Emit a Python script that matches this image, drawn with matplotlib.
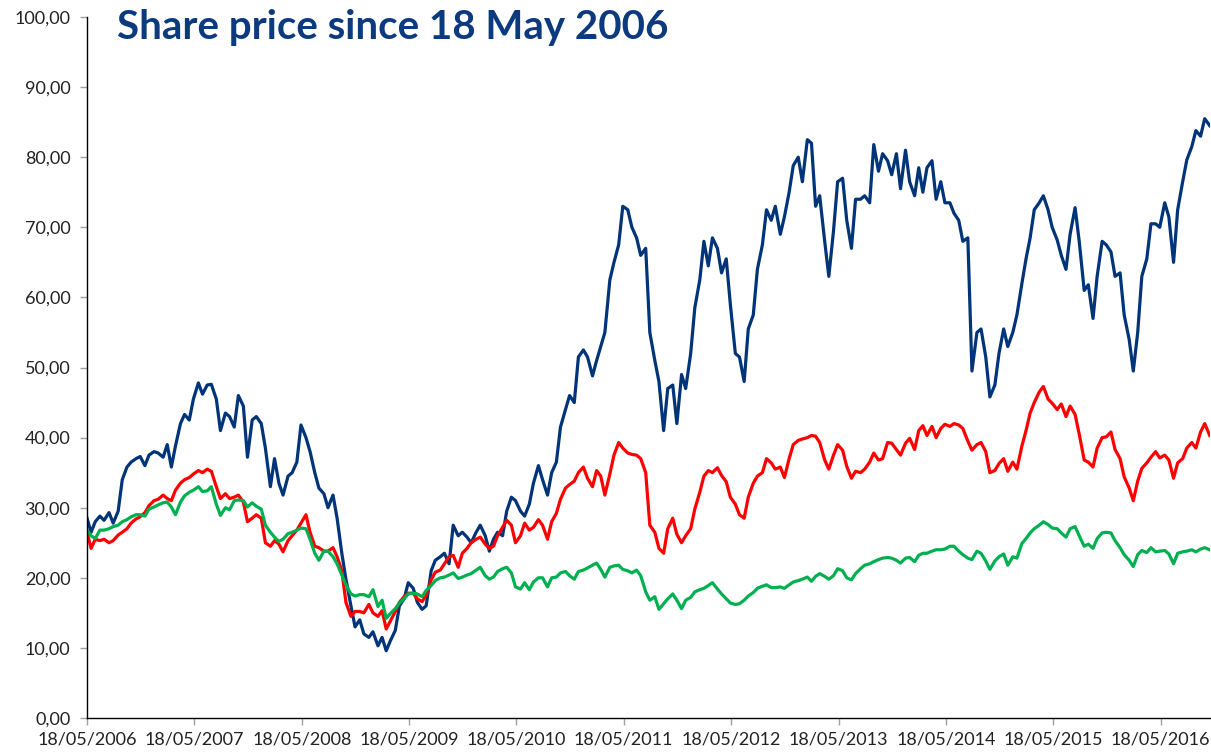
import pandas as pd
import matplotlib
matplotlib.use('Agg')
import matplotlib.pyplot as plt
import matplotlib.dates as mdates
from matplotlib.ticker import FuncFormatter

# semi-monthly observations, 18 May 2006 -> 1 Nov 2016
dates = [pd.Timestamp('2006-05-18')] + list(pd.date_range('2006-06-01', '2016-11-01', freq='SMS'))

blue = [
    28.5, 26.5, 28.0, 28.8, 28.2, 29.3, 27.8, 29.5, 34.0, 35.8, 36.5, 37.0,
    37.3, 36.0, 37.5, 38.0, 37.8, 37.2, 39.0, 35.8, 38.8, 42.0, 43.3, 42.5,
    45.5, 47.8, 46.2, 47.5, 47.6, 45.5, 41.0, 43.5, 43.0, 41.5, 46.0, 44.5,
    37.2, 42.5, 43.0, 42.0, 38.5, 33.0, 37.0, 33.5, 31.8, 34.5, 35.0, 36.5,
    41.8, 40.0, 38.0, 35.0, 32.8, 32.0, 30.0, 31.8, 28.5, 23.5, 19.8, 16.0,
    13.0, 14.0, 12.0, 11.5, 12.3, 10.3, 11.5, 9.6, 11.0, 12.5, 16.0, 17.0,
    19.3, 18.5, 16.5, 15.5, 16.0, 21.0, 22.5, 23.0, 23.5, 22.0, 27.5, 26.0,
    26.5, 25.8, 25.0, 26.5, 27.5, 26.0, 23.8, 25.5, 26.5, 26.0, 29.5, 31.5,
    31.0, 29.5, 28.8, 30.5, 33.5, 36.0, 34.0, 31.8, 35.0, 36.5, 41.5, 44.0,
    46.0, 45.0, 51.5, 52.5, 51.5, 48.8, 51.0, 53.0, 55.0, 62.5, 65.0, 67.5,
    73.0, 72.5, 70.0, 68.5, 66.0, 67.0, 55.0, 51.0, 48.0, 41.0, 47.0, 47.5,
    42.0, 49.0, 47.0, 52.0, 58.5, 62.5, 68.0, 64.5, 68.5, 67.0, 63.5, 65.5,
    59.0, 52.0, 51.5, 48.0, 55.5, 57.5, 64.0, 67.5, 72.5, 71.0, 73.0, 69.0,
    71.5, 75.0, 78.8, 80.0, 76.5, 82.5, 82.0, 73.0, 74.5, 68.0, 63.0, 69.5,
    76.5, 77.0, 71.0, 67.0, 74.0, 74.0, 74.5, 73.5, 81.8, 78.0, 80.5, 79.5,
    77.5, 80.5, 75.5, 81.0, 76.5, 74.5, 78.5, 75.0, 78.5, 79.5, 74.0, 76.5,
    73.5, 73.5, 72.0, 71.0, 68.0, 68.5, 49.5, 55.0, 55.5, 51.5, 45.8, 47.5,
    52.0, 55.5, 53.0, 55.0, 57.5, 62.0, 65.5, 68.5, 72.5, 73.5, 74.5, 72.5,
    70.0, 68.2, 66.0, 64.0, 69.0, 72.8, 68.0, 61.0, 61.8, 57.0, 63.0, 68.0,
    67.5, 66.5, 63.0, 63.5, 57.5, 54.0, 49.5, 55.0, 63.0, 65.5, 70.5, 70.5,
    70.0, 73.5, 71.5, 65.0, 72.5, 76.5, 79.6, 81.5, 83.8, 83.0, 85.5, 84.5,
]

red = [
    26.5, 24.2, 25.5, 25.3, 25.5, 25.0, 25.3, 26.1, 26.5, 27.0, 27.8, 28.4,
    28.7, 29.3, 30.3, 31.0, 31.2, 31.8, 31.3, 31.0, 32.5, 33.5, 34.0, 34.3,
    34.8, 35.3, 35.0, 35.5, 35.2, 33.0, 31.3, 32.0, 31.3, 31.5, 31.8, 30.8,
    28.0, 28.5, 29.0, 28.5, 25.0, 24.5, 25.3, 24.8, 23.7, 25.3, 26.0, 26.8,
    27.8, 29.0, 26.5, 24.5, 24.3, 23.8, 23.8, 24.3, 23.0, 21.0, 16.5, 14.5,
    15.2, 15.2, 15.0, 16.2, 15.0, 14.5, 15.3, 12.7, 13.8, 15.2, 16.5, 17.3,
    17.8, 17.8, 17.0, 16.6, 17.5, 19.7, 20.8, 21.1, 22.0, 23.0, 23.2, 21.5,
    23.5, 24.2, 25.0, 25.5, 25.8, 24.8, 24.2, 24.5, 26.0, 27.2, 28.2, 27.5,
    25.0, 26.0, 27.8, 26.8, 27.2, 28.3, 27.5, 25.5, 28.0, 29.2, 31.2, 32.8,
    33.3, 33.8, 35.0, 35.8, 34.2, 33.0, 35.3, 34.5, 31.8, 34.8, 37.5, 39.3,
    38.5, 37.8, 37.6, 37.5, 37.0, 35.0, 27.5, 26.5, 24.2, 23.5, 27.0, 28.5,
    26.2, 25.0, 26.0, 27.0, 29.8, 32.2, 34.5, 35.3, 35.0, 35.7, 34.6, 33.7,
    31.5, 30.5, 29.0, 28.5, 31.5, 33.5, 34.5, 35.0, 37.0, 36.4, 35.5, 35.8,
    34.3, 37.0, 39.0, 39.6, 39.8, 40.0, 40.3, 40.2, 39.3, 36.8, 35.5, 37.5,
    39.0, 38.2, 35.9, 34.2, 35.2, 35.0, 35.5, 36.5, 37.8, 36.8, 37.0, 39.3,
    39.2, 38.3, 37.5, 39.2, 39.9, 38.3, 41.0, 41.7, 40.3, 41.6, 40.0, 41.3,
    41.9, 41.6, 42.0, 41.8, 41.3, 39.5, 38.2, 39.0, 39.3, 38.0, 35.0, 35.3,
    36.3, 37.0, 35.2, 36.5, 35.5, 38.8, 41.0, 43.5, 45.0, 46.5, 47.3, 45.5,
    44.9, 44.0, 44.8, 43.0, 44.5, 43.3, 40.5, 36.8, 36.5, 35.8, 38.5, 40.0,
    40.1, 40.8, 38.3, 37.0, 34.4, 32.8, 31.0, 33.8, 35.6, 36.4, 37.2, 38.0,
    37.1, 37.5, 36.8, 34.2, 36.4, 37.0, 38.5, 39.3, 38.5, 40.8, 42.0, 40.3,
]

green = [
    26.8, 26.0, 25.6, 26.8, 26.8, 27.0, 27.3, 27.5, 28.0, 28.3, 28.7, 29.0,
    29.0, 28.8, 29.8, 30.1, 30.4, 30.7, 30.8, 30.1, 29.0, 30.8, 31.7, 32.2,
    32.5, 33.0, 32.3, 32.4, 33.0, 30.5, 28.9, 30.0, 29.7, 31.0, 31.1, 31.0,
    30.1, 30.7, 30.2, 29.8, 27.5, 26.5, 25.8, 25.2, 25.5, 26.3, 26.5, 26.8,
    27.1, 27.0, 25.5, 23.5, 22.5, 23.8, 23.8, 23.0, 22.0, 20.4, 19.0, 17.7,
    17.4, 17.6, 17.6, 17.3, 18.3, 15.9, 16.8, 14.2, 14.9, 15.6, 16.4, 17.0,
    17.7, 17.8, 17.7, 17.3, 18.2, 18.9, 19.6, 20.0, 20.1, 20.4, 20.7, 19.9,
    20.1, 20.4, 20.6, 21.1, 21.5, 20.3, 19.8, 20.1, 20.9, 21.3, 21.5, 20.7,
    18.7, 18.4, 19.3, 18.3, 19.4, 20.0, 20.0, 18.7, 20.0, 20.1, 20.7, 20.9,
    20.3, 19.8, 20.9, 21.1, 21.4, 21.8, 22.1, 21.2, 20.1, 21.5, 21.7, 21.8,
    21.2, 21.0, 20.7, 21.1, 20.3, 18.0, 16.8, 17.3, 15.5, 16.3, 17.0, 17.7,
    16.8, 15.6, 16.8, 17.2, 18.0, 18.3, 18.5, 18.9, 19.3, 18.4, 17.7, 17.0,
    16.4, 16.2, 16.3, 16.8, 17.4, 17.9, 18.5, 18.8, 19.0, 18.6, 18.6, 18.7,
    18.5, 19.0, 19.4, 19.6, 19.8, 20.1, 19.5, 20.2, 20.6, 20.2, 19.8, 20.3,
    21.3, 21.0, 20.0, 19.7, 20.6, 21.3, 21.8, 22.0, 22.3, 22.6, 22.8, 22.9,
    22.8, 22.5, 22.1, 22.8, 22.9, 22.3, 23.2, 23.5, 23.5, 23.8, 24.0, 24.0,
    24.1, 24.5, 24.5, 23.8, 23.3, 22.8, 22.6, 23.8, 23.5, 22.4, 21.2, 22.4,
    23.0, 23.4, 21.8, 23.0, 22.8, 24.9, 25.6, 26.4, 27.0, 27.5, 28.0, 27.6,
    27.1, 27.0, 26.4, 25.8, 27.0, 27.3, 26.0, 24.5, 24.8, 24.2, 25.6, 26.4,
    26.5, 26.4, 25.3, 24.3, 23.3, 22.5, 21.6, 23.3, 23.9, 23.6, 24.3, 23.7,
    23.8, 23.9, 23.4, 22.0, 23.5, 23.7, 23.8, 24.0, 23.7, 24.1, 24.3, 24.0,
]

tick_years = list(range(2006, 2017))

plt.rcParams['font.family'] = ['Lato', 'DejaVu Sans']

fig = plt.figure(figsize=(12.11, 7.54), dpi=100)
ax = fig.add_axes([87 / 1211, 36 / 754, 1123 / 1211, 701 / 754])

ax.plot(dates, blue, color='#003478', lw=2.3)
ax.plot(dates, red, color='#ff0000', lw=2.3)
ax.plot(dates, green, color='#00b050', lw=2.3)

ax.set_xlim(pd.Timestamp('2006-05-18'), pd.Timestamp('2016-11-02'))
ax.set_ylim(0, 100)
ax.set_yticks(range(0, 101, 10))
ax.yaxis.set_major_formatter(FuncFormatter(lambda v, p: f'{v:.2f}'.replace('.', ',')))
ax.set_xticks([pd.Timestamp(f'{y}-05-18') for y in tick_years])
ax.xaxis.set_major_formatter(mdates.DateFormatter('%d/%m/%Y'))

for s in ['top', 'right']:
    ax.spines[s].set_visible(False)
for s in ['left', 'bottom']:
    ax.spines[s].set_linewidth(1.0)
    ax.spines[s].set_color('black')
ax.tick_params(axis='both', direction='out', length=5, width=1, color='#a0a0a0',
               labelsize=13, labelcolor='#222222')
ax.tick_params(axis='y', pad=7)
ax.tick_params(axis='x', pad=5)

fig.text(117 / 1211, 1 - 9 / 754, 'Share price since 18 May 2006', ha='left', va='top',
         fontsize=29, fontweight='bold', color='#0b3a7e')

fig.savefig('out.png', dpi=100)
